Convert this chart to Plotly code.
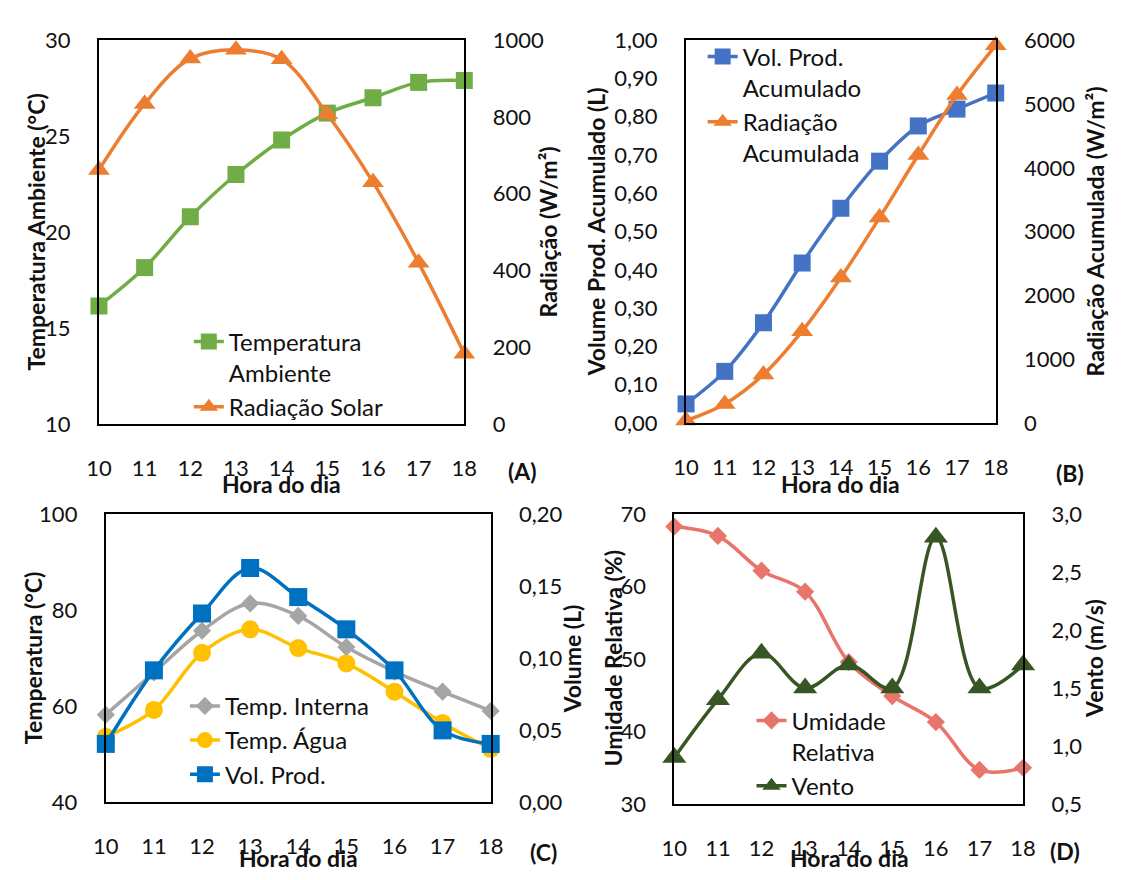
import plotly.graph_objects as go

# ---------------- data ----------------
hours = [10, 11, 12, 13, 14, 15, 16, 17, 18]

# (A)
temp_ambiente = [16.15, 18.15, 20.8, 23.0, 24.8, 26.2, 27.0, 27.8, 27.9]
radiacao_solar = [662, 834, 952, 975, 950, 807, 630, 420, 183]

# (B)
vol_prod_acumulado = [0.05, 0.135, 0.262, 0.418, 0.561, 0.684, 0.776, 0.82, 0.862]
radiacao_acumulada = [40, 300, 760, 1440, 2280, 3220, 4200, 5140, 5920]

# (C)
temp_interna = [58.2, 67.0, 75.7, 81.4, 78.8, 72.3, 67.2, 63.0, 59.0]
temp_agua = [53.6, 59.2, 71.1, 76.0, 72.1, 68.9, 63.0, 56.5, 51.1]
vol_prod = [0.0404, 0.0915, 0.131, 0.1626, 0.1424, 0.120, 0.0915, 0.0498, 0.0404]

# (D)
umidade_relativa = [68.3, 67.0, 62.2, 59.3, 49.6, 44.9, 41.3, 34.7, 35.0]
vento = [0.9, 1.4, 1.8, 1.5, 1.7, 1.5, 2.8, 1.5, 1.7]

# ---------------- layout helpers ----------------
W, H = 1123, 880
FONT = "Lato"
TXT = "#111111"
TICK_FONT = dict(family=FONT, size=22, color=TXT)


def dx(a, b):
    return [a / W, b / W]


def dy(top, bottom):
    return [1 - bottom / H, 1 - top / H]


def xax(dom, anchor):
    return dict(domain=dom, anchor=anchor, range=[10, 18], tickvals=hours,
                showgrid=False, zeroline=False, showline=True, mirror=True,
                linecolor="black", linewidth=2, ticks="", ticklabelstandoff=24,
                tickfont=TICK_FONT)


def yax(dom, anchor, rng, dtick, fmt=None, overlay=None):
    d = dict(domain=dom, anchor=anchor, range=rng, dtick=dtick, tick0=rng[0],
             showgrid=False, zeroline=False, showline=True, mirror=True,
             linecolor="black", linewidth=2, ticks="", ticklabelstandoff=22,
             tickfont=TICK_FONT)
    if fmt:
        d["tickformat"] = fmt
    if overlay:
        d["overlaying"] = overlay
        d["side"] = "right"
    return d


def trace(y, name, color, symbol, size, xa, ya, legend):
    return go.Scatter(
        x=hours, y=y, name=name, mode="lines+markers",
        line=dict(color=color, width=3.5, shape="spline", smoothing=1.0),
        marker=dict(color=color, symbol=symbol, size=size),
        xaxis=xa, yaxis=ya, legend=legend, cliponaxis=False)


GREEN = "#70AD47"
ORANGE = "#ED7D31"
BLUE_B = "#4472C4"
GREY = "#A5A5A5"
YELLOW = "#FFC000"
BLUE_C = "#0070C0"
SALMON = "#E8756A"
DKGREEN = "#375623"

fig = go.Figure()
fig.add_trace(trace(temp_ambiente, "Temperatura<br>Ambiente", GREEN, "square", 17, "x", "y", "legend"))
fig.add_trace(trace(radiacao_solar, "Radiação Solar", ORANGE, "triangle-up", 19, "x", "y2", "legend"))
fig.add_trace(trace(vol_prod_acumulado, "Vol. Prod.<br>Acumulado", BLUE_B, "square", 17, "x2", "y3", "legend2"))
fig.add_trace(trace(radiacao_acumulada, "Radiação<br>Acumulada", ORANGE, "triangle-up", 19, "x2", "y4", "legend2"))
fig.add_trace(trace(temp_interna, "Temp. Interna", GREY, "diamond", 14, "x3", "y5", "legend3"))
fig.add_trace(trace(temp_agua, "Temp. Água", YELLOW, "circle", 18, "x3", "y5", "legend3"))
fig.add_trace(trace(vol_prod, "Vol. Prod.", BLUE_C, "square", 18, "x3", "y6", "legend3"))
fig.add_trace(trace(umidade_relativa, "Umidade<br>Relativa", SALMON, "diamond", 14, "x4", "y7", "legend4"))
fig.add_trace(trace(vento, "Vento", DKGREEN, "triangle-up", 21, "x4", "y8", "legend4"))

LEG_FONT = dict(family=FONT, size=24, color=TXT)


def leg(xpx, ypx):
    return dict(x=xpx / W, y=1 - ypx / H, xanchor="left", yanchor="top",
                bgcolor="rgba(0,0,0,0)", font=LEG_FONT, valign="top",
                tracegroupgap=0)


A_x, A_y = dx(88, 462), dy(27, 423)
B_x, B_y = dx(689, 1006), dy(27, 422)
C_x, C_y = dx(95, 489), dy(516, 813)
D_x, D_y = dx(677, 1034), dy(516, 815)

fig.update_layout(
    width=W, height=H, margin=dict(l=0, r=0, t=0, b=0),
    paper_bgcolor="white", plot_bgcolor="white",
    separators=", ", showlegend=True,
    font=dict(family=FONT, color=TXT),
    xaxis=xax(A_x, "y"),
    yaxis=yax(A_y, "x", [10, 30], 5),
    yaxis2=yax(A_y, "x", [0, 1000], 200, overlay="y"),
    xaxis2=xax(B_x, "y3"),
    yaxis3=yax(B_y, "x2", [0, 1], 0.1, fmt=".2f"),
    yaxis4=yax(B_y, "x2", [0, 6000], 1000, overlay="y3"),
    xaxis3=xax(C_x, "y5"),
    yaxis5=yax(C_y, "x3", [40, 100], 20),
    yaxis6=yax(C_y, "x3", [0, 0.2], 0.05, fmt=".2f", overlay="y5"),
    xaxis4=xax(D_x, "y7"),
    yaxis7=yax(D_y, "x4", [30, 70], 10),
    yaxis8=yax(D_y, "x4", [0.5, 3.0], 0.5, fmt=".1f", overlay="y7"),
    legend=leg(180, 315),
    legend2=leg(706, 21),
    legend3=leg(176, 691),
    legend4=leg(756, 706),
)


def ann(text, xpx, ypx, angle=0, size=23):
    fig.add_annotation(text="<b>" + text + "</b>", x=xpx / W, y=1 - ypx / H,
                       xref="paper", yref="paper", showarrow=False,
                       textangle=angle, xanchor="center", yanchor="middle",
                       font=dict(family=FONT, size=size, color=TXT))


# axis titles
ann("Temperatura Ambiente (°C)", 24, 225, -90)
ann("Radiação (W/m²)", 548, 225, -90)
ann("Hora do dia", 275, 485)
ann("Volume Prod. Acumulado (L)", 597, 225, -90)
ann("Radiação Acumulada (W/m²)", 1108, 224, -90)
ann("Hora do dia", 847, 485)
ann("Temperatura (°C)", 20, 665, -90)
ann("Volume (L)", 572, 665, -90)
ann("Hora do dia", 292, 871)
ann("Umidade Relativa (%)", 614, 665, -90)
ann("Vento (m/s)", 1106, 665, -90)
ann("Hora do dia", 856, 871)
# panel labels
ann("(A)", 522, 471)
ann("(B)", 1082, 474)
ann("(C)", 543, 865)
ann("(D)", 1077, 863)

fig.write_html(
    "out.html",
    config={"displayModeBar": False},
    post_script="document.body.style.margin='0';document.body.style.overflow='hidden';",
)
